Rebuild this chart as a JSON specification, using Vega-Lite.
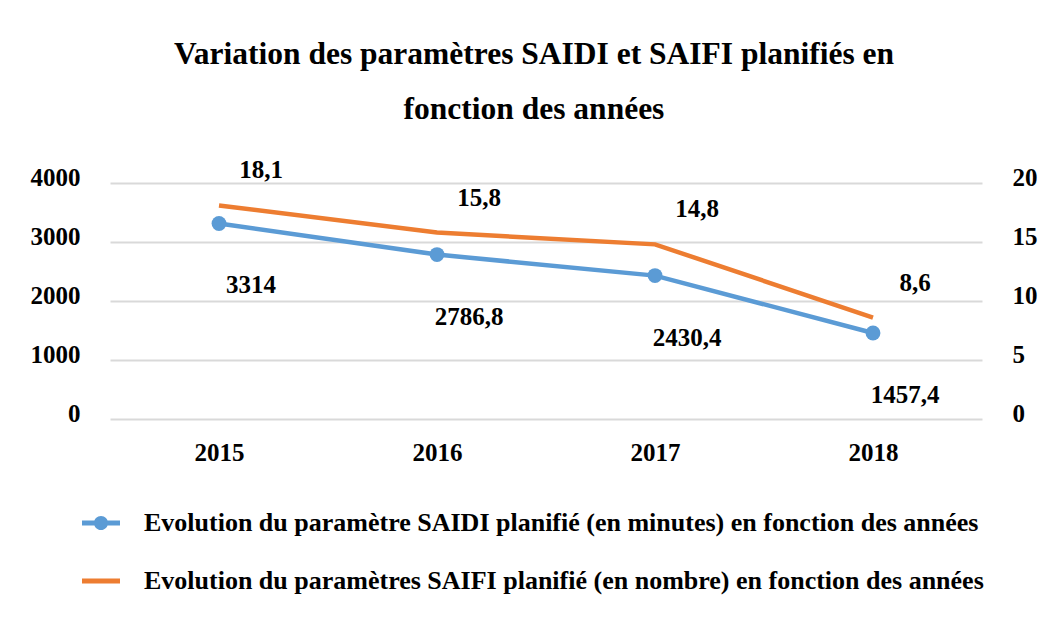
{
  "$schema": "https://vega.github.io/schema/vega-lite/v6.json",
  "autosize": "none",
  "width": 872,
  "height": 236,
  "padding": {"left": 110, "top": 183, "right": 64, "bottom": 205},
  "background": "white",
  "config": {
    "font": "Liberation Serif",
    "view": {"stroke": null},
    "locale": {"number": {"decimal": ",", "thousands": "", "grouping": [3], "currency": ["", ""]}}
  },
  "title": {
    "text": ["Variation des paramètres SAIDI et SAIFI planifiés en", "fonction des années"],
    "anchor": "middle",
    "font": "Liberation Serif",
    "fontSize": 31.5,
    "fontWeight": "bold",
    "lineHeight": 55,
    "offset": 33,
    "dx": -12,
    "color": "black"
  },
  "data": {
    "values": [
      {"year": "2015", "saidi": 3314, "saifi": 18.1},
      {"year": "2016", "saidi": 2786.8, "saifi": 15.8},
      {"year": "2017", "saidi": 2430.4, "saifi": 14.8},
      {"year": "2018", "saidi": 1457.4, "saifi": 8.6}
    ]
  },
  "encoding": {
    "x": {
      "field": "year", "type": "ordinal", "title": null,
      "scale": {"type": "point", "padding": 0.5},
      "axis": {"labelAngle": 0, "domain": false, "ticks": false, "labelPadding": 21, "labelFontSize": 25, "labelFontWeight": "bold", "labelColor": "black", "labelFont": "Liberation Serif"}
    }
  },
  "layer": [
    {
      "encoding": {
        "y": {
          "field": "saidi", "type": "quantitative", "title": null,
          "scale": {"domain": [0, 4000], "nice": false},
          "axis": {"orient": "left", "values": [0, 1000, 2000, 3000, 4000], "format": "d", "domain": false, "ticks": false, "labelPadding": 30, "labelOffset": -6, "labelFontSize": 25, "labelFontWeight": "bold", "labelColor": "black", "labelFont": "Liberation Serif", "grid": true, "gridColor": "#d9d9d9", "gridWidth": 2}
        },
        "color": {
          "datum": "Evolution du paramètre SAIDI planifié (en minutes) en fonction des années",
          "type": "nominal",
          "scale": {
            "domain": ["Evolution du paramètre SAIDI planifié (en minutes) en fonction des années", "Evolution du paramètres SAIFI planifié (en nombre) en fonction des années"],
            "range": ["#5B9BD5", "#ED7D31"]
          },
          "legend": {
            "title": null,
            "orient": "none",
            "legendX": -28,
            "legendY": 321,
            "direction": "vertical",
            "labelFontSize": 26,
            "labelFontWeight": "bold",
            "labelFont": "Liberation Serif",
            "labelColor": "black",
            "labelLimit": 1000,
            "labelOffset": 24,
            "rowPadding": 26,
            "symbolSize": 1444,
            "symbolStrokeWidth": 0,
            "encode": {
              "symbols": {
                "update": {
                  "shape": {"signal": "datum.label && indexof(datum.label, 'SAIDI') >= 0 ? 'M-1,-0.13H1V0.13H-1Z M0.37,0 A0.37,0.37 0 1,1 -0.37,0 A0.37,0.37 0 1,1 0.37,0Z' : 'M-1,-0.13H1V0.13H-1Z'"},
                  "fillOpacity": {"value": 1}
                }
              }
            }
          }
        }
      },
      "layer": [
        {"mark": {"type": "line", "strokeWidth": 4.5}},
        {"mark": {"type": "point", "filled": true, "size": 220, "opacity": 1}},
        {"mark": {"type": "text", "dx": 32, "dy": 62, "fontSize": 25, "fontWeight": "bold", "color": "black", "font": "Liberation Serif"},
         "encoding": {"text": {"field": "saidi", "type": "quantitative", "format": "~r"}, "color": {"value": "black"}}}
      ]
    },
    {
      "encoding": {
        "y": {
          "field": "saifi", "type": "quantitative", "title": null,
          "scale": {"domain": [0, 20], "nice": false},
          "axis": {"orient": "right", "values": [0, 5, 10, 15, 20], "format": "d", "domain": false, "ticks": false, "grid": false, "labelPadding": 30, "labelOffset": -6, "labelFontSize": 25, "labelFontWeight": "bold", "labelColor": "black", "labelFont": "Liberation Serif"}
        },
        "color": {"datum": "Evolution du paramètres SAIFI planifié (en nombre) en fonction des années", "type": "nominal"}
      },
      "layer": [
        {"mark": {"type": "line", "strokeWidth": 4.5}},
        {"mark": {"type": "text", "dx": 42, "dy": -35, "fontSize": 25, "fontWeight": "bold", "color": "black", "font": "Liberation Serif"},
         "encoding": {"text": {"field": "saifi", "type": "quantitative", "format": "~r"}, "color": {"value": "black"}}}
      ]
    }
  ],
  "resolve": {"scale": {"y": "independent"}}
}
